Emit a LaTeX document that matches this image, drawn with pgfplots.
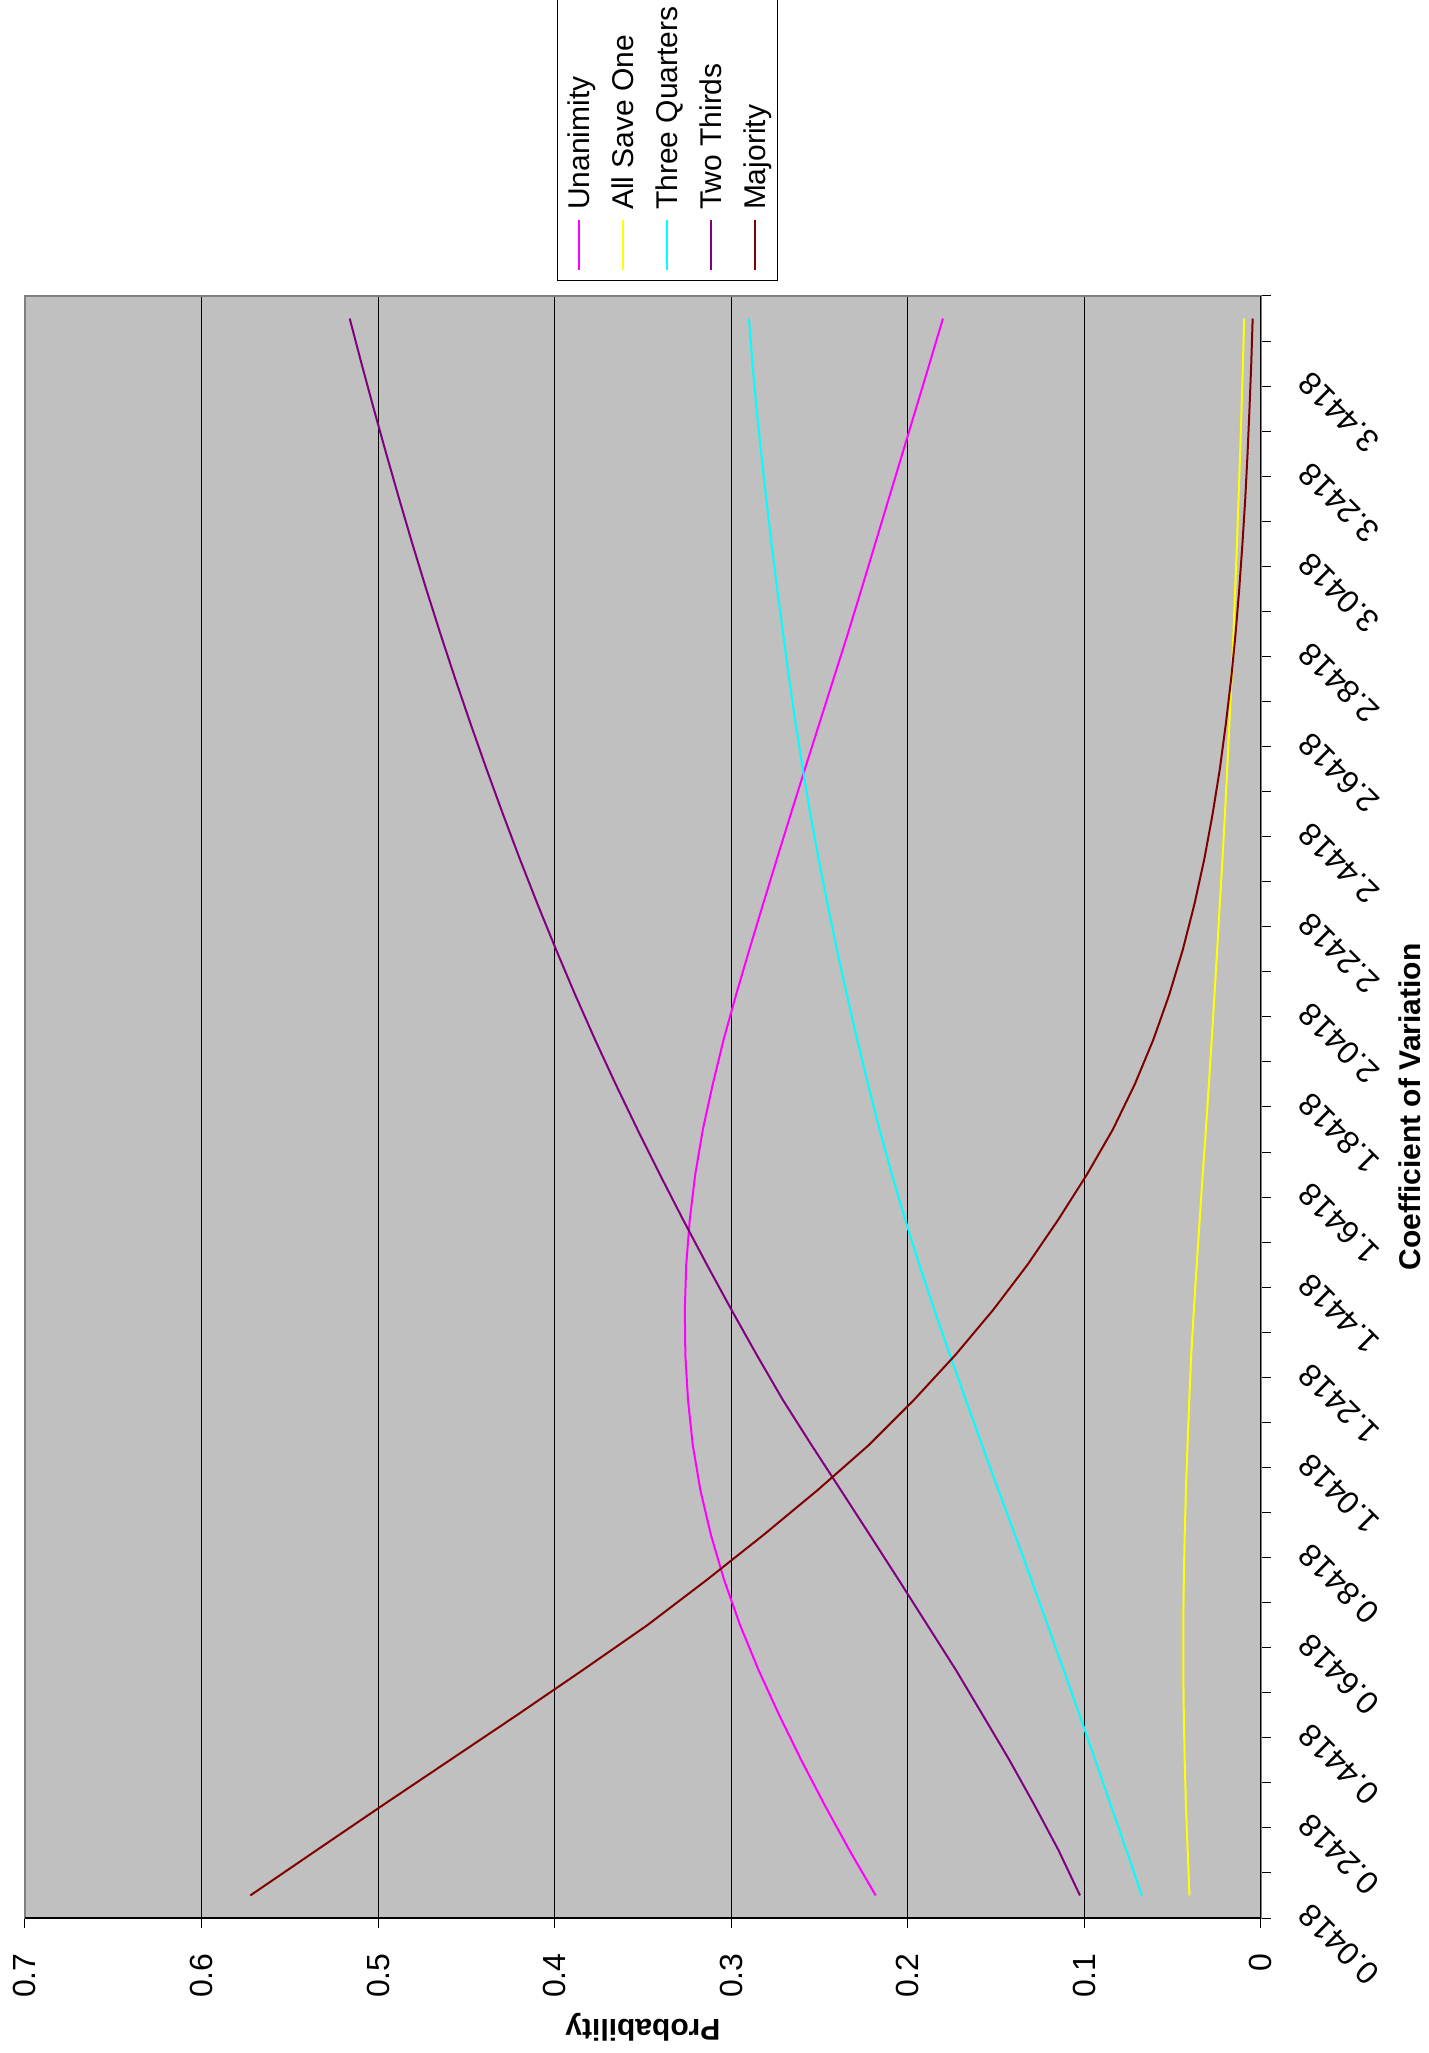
\documentclass[border=0pt]{standalone}
\usepackage{fontspec}
\setmainfont{Liberation Sans}
\usepackage{pgfplots}
\usepackage{pgfplotstable}
\pgfplotsset{compat=1.18}

\definecolor{plotbg}{RGB}{192,192,192}
\definecolor{frameg}{RGB}{128,128,128}
\definecolor{cuna}{RGB}{255,0,255}
\definecolor{caso}{RGB}{255,255,0}
\definecolor{ctq}{RGB}{0,255,255}
\definecolor{ctt}{RGB}{128,0,128}
\definecolor{cmaj}{RGB}{128,0,0}

% legend key turned on its side: a short upright line with its name above it
\pgfplotsset{
    rotleg/.style={legend image code/.code={
        \draw[##1, line width=1pt] (0pt,0pt) -- (0pt,25pt);
        \node[rotate=90, anchor=west, inner sep=0pt, text height=11pt, text depth=0pt,
              font=\fontsize{15}{18}\selectfont, text=black] at (0pt,29.5pt) {#1};
    }},
}

% cv = coefficient of variation, one row per category
\pgfplotstableread{
cv     una    aso    tq     tt     maj
0.0418 0.2182 0.0405 0.0675 0.1025 0.5724
0.1418 0.2330 0.0415 0.0762 0.1146 0.5350
0.2418 0.2470 0.0425 0.0850 0.1282 0.4975
0.3418 0.2603 0.0432 0.0938 0.1424 0.4595
0.4418 0.2728 0.0437 0.1027 0.1575 0.4215
0.5418 0.2845 0.0440 0.1117 0.1727 0.3842
0.6418 0.2950 0.0440 0.1208 0.1889 0.3475
0.7418 0.3040 0.0437 0.1300 0.2051 0.3140
0.8418 0.3115 0.0432 0.1393 0.2215 0.2818
0.9418 0.3175 0.0425 0.1487 0.2380 0.2510
1.0418 0.3218 0.0416 0.1580 0.2546 0.2220
1.1418 0.3245 0.0406 0.1672 0.2708 0.1965
1.2418 0.3260 0.0395 0.1762 0.2856 0.1730
1.3418 0.3263 0.0380 0.1850 0.2999 0.1516
1.4418 0.3255 0.0364 0.1935 0.3138 0.1322
1.5418 0.3235 0.0347 0.2015 0.3273 0.1148
1.6418 0.3204 0.0330 0.2090 0.3404 0.0986
1.7418 0.3161 0.0312 0.2160 0.3531 0.0839
1.8418 0.3105 0.0295 0.2225 0.3654 0.0715
1.9418 0.3043 0.0279 0.2287 0.3772 0.0609
2.0418 0.2972 0.0263 0.2346 0.3885 0.0519
2.1418 0.2897 0.0248 0.2402 0.3993 0.0442
2.2418 0.2820 0.0233 0.2455 0.4097 0.0377
2.3418 0.2742 0.0218 0.2505 0.4197 0.0321
2.4418 0.2663 0.0204 0.2552 0.4293 0.0274
2.5418 0.2583 0.0191 0.2595 0.4386 0.0233
2.6418 0.2502 0.0179 0.2635 0.4476 0.0199
2.7418 0.2421 0.0167 0.2672 0.4563 0.0169
2.8418 0.2340 0.0156 0.2706 0.4647 0.0144
2.9418 0.2262 0.0146 0.2740 0.4728 0.0123
3.0418 0.2185 0.0136 0.2772 0.4806 0.0105
3.1418 0.2108 0.0127 0.2802 0.4881 0.0089
3.2418 0.2031 0.0118 0.2830 0.4954 0.0076
3.3418 0.1954 0.0110 0.2857 0.5025 0.0065
3.4418 0.1877 0.0102 0.2880 0.5094 0.0055
3.5418 0.1801 0.0095 0.2900 0.5161 0.0047
}\cvdata

\begin{document}
\begin{tikzpicture}
\useasboundingbox (-12.5pt,-67.5pt) rectangle (702pt,959pt);
\begin{axis}[
    at={(0,0)}, anchor=south west,
    scale only axis, width=618pt, height=811pt,
    x dir=reverse,
    xmin=0, xmax=0.7, ymin=-0.0082, ymax=3.5918,
    axis background/.style={fill=plotbg},
    axis line style={draw=frameg, line width=1pt},
    xtick={0,0.1,0.2,0.3,0.4,0.5,0.6,0.7},
    xticklabels={0,0.1,0.2,0.3,0.4,0.5,0.6,0.7},
    ytick={-0.0082,0.0918,0.1918,0.2918,0.3918,0.4918,0.5918,0.6918,0.7918,0.8918,0.9918,1.0918,1.1918,1.2918,1.3918,1.4918,1.5918,1.6918,1.7918,1.8918,1.9918,2.0918,2.1918,2.2918,2.3918,2.4918,2.5918,2.6918,2.7918,2.8918,2.9918,3.0918,3.1918,3.2918,3.3918,3.4918,3.5918},
    yticklabels={0.0418,{},0.2418,{},0.4418,{},0.6418,{},0.8418,{},1.0418,{},1.2418,{},1.4418,{},1.6418,{},1.8418,{},2.0418,{},2.2418,{},2.4418,{},2.6418,{},2.8418,{},3.0418,{},3.2418,{},3.4418,{},{}},
    xtick pos=bottom, xticklabel pos=bottom,
    ytick pos=right, yticklabel pos=right,
    tick align=outside, major tick length=5pt,
    tick style={black, line width=0.5pt},
    xmajorgrids=true,
    major grid style={black, line width=0.5pt},
    xticklabel shift=12.5pt,
    yticklabel shift=12.5pt,
    xticklabel style={font=\fontsize{16}{19}\selectfont, rotate=90, anchor=east, inner sep=0pt},
    yticklabel style={font=\fontsize{16}{19}\selectfont, rotate=135, anchor=north east, inner sep=0pt},
    xlabel={Probability},
    xlabel style={font=\fontsize{15}{18}\selectfont\bfseries, at={(axis description cs:0.5,-0.0672)}, anchor=center, rotate=180},
    ylabel={Coefficient of Variation},
    ylabel style={font=\fontsize{15}{18}\selectfont\bfseries, at={(axis description cs:1.1206,0.5)}, anchor=center},
    legend columns=5,
    legend style={
        at={(axis description cs:0.4307,1.00925)}, anchor=south west,
        draw=black, line width=0.5pt, fill=white,
        inner xsep=4.95pt, inner ysep=4.5pt,
        nodes={inner sep=0pt},
        /tikz/every odd column/.style={column sep=0pt},
        /tikz/every even column/.style={column sep=10.03pt},
    },
]
\addplot[cuna, line width=1pt, rotleg={Unanimity}] table[x=una, y=cv] {\cvdata};
\addlegendentry{\hbox{}}
\addplot[caso, line width=1pt, rotleg={All Save One}] table[x=aso, y=cv] {\cvdata};
\addlegendentry{\hbox{}}
\addplot[ctq, line width=1pt, rotleg={Three Quarters}] table[x=tq, y=cv] {\cvdata};
\addlegendentry{\hbox{}}
\addplot[ctt, line width=1pt, rotleg={Two Thirds}] table[x=tt, y=cv] {\cvdata};
\addlegendentry{\hbox{}}
\addplot[cmaj, line width=1pt, rotleg={Majority}] table[x=maj, y=cv] {\cvdata};
\addlegendentry{\hbox{}}
% dark bottom and right frame lines, as in the original
\draw[black, line width=1.2pt] (axis cs:0.7,-0.0082) -- (axis cs:0,-0.0082) -- (axis cs:0,3.5918);
\end{axis}
\end{tikzpicture}
\end{document}
